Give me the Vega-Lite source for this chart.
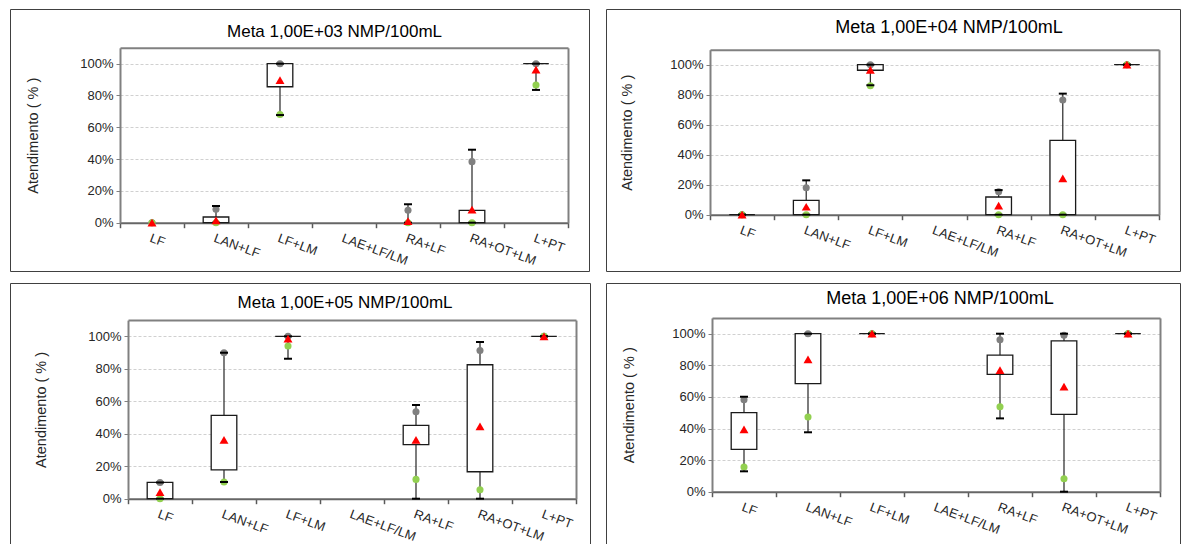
{
  "$schema": "https://vega.github.io/schema/vega-lite/v6.json",
  "background": "white",
  "padding": {"left": 5, "top": 8, "right": 0, "bottom": 0},
  "config": {
    "font": "Liberation Sans",
    "view": {"stroke": "#404040", "strokeWidth": 1},
    "axis": {
      "labelFont": "Liberation Sans",
      "labelFontSize": 13,
      "labelColor": "#262626",
      "titleFont": "Liberation Sans",
      "titleFontSize": 14.5,
      "titleFontWeight": "normal",
      "titleColor": "#262626"
    },
    "title": {"font": "Liberation Sans", "fontSize": 17, "fontWeight": "normal", "color": "#000000", "anchor": "middle", "frame": "group", "baseline": "middle"}
  },
  "datasets": {
    "caixas": [
      {"meta": "1,00E+03", "grupo": "LF", "minimo": null, "q1": null, "q3": null, "maximo": null, "p10": 0, "p90": 0, "media": 0},
      {"meta": "1,00E+03", "grupo": "LAN+LF", "minimo": 0, "q1": 0, "q3": 0.036, "maximo": 0.105, "p10": 0, "p90": 0.084, "media": 0.015},
      {"meta": "1,00E+03", "grupo": "LF+LM", "minimo": 0.677, "q1": 0.855, "q3": 1, "maximo": 1, "p10": 0.68, "p90": 1, "media": 0.896},
      {"meta": "1,00E+03", "grupo": "RA+LF", "minimo": 0, "q1": null, "q3": null, "maximo": 0.116, "p10": 0, "p90": 0.078, "media": 0.01},
      {"meta": "1,00E+03", "grupo": "RA+OT+LM", "minimo": 0, "q1": 0, "q3": 0.078, "maximo": 0.459, "p10": 0, "p90": 0.384, "media": 0.082},
      {"meta": "1,00E+03", "grupo": "L+PT", "minimo": 0.835, "q1": 1, "q3": 1, "maximo": 1, "p10": 0.866, "p90": 1, "media": 0.962},

      {"meta": "1,00E+04", "grupo": "LF", "minimo": 0, "q1": 0, "q3": 0, "maximo": 0, "p10": 0, "p90": 0, "media": 0},
      {"meta": "1,00E+04", "grupo": "LAN+LF", "minimo": 0, "q1": 0, "q3": 0.096, "maximo": 0.229, "p10": 0, "p90": 0.18, "media": 0.053},
      {"meta": "1,00E+04", "grupo": "LF+LM", "minimo": 0.863, "q1": 0.963, "q3": 1, "maximo": 1, "p10": 0.86, "p90": 1, "media": 0.965},
      {"meta": "1,00E+04", "grupo": "RA+LF", "minimo": 0, "q1": 0, "q3": 0.118, "maximo": 0.164, "p10": 0, "p90": 0.153, "media": 0.06},
      {"meta": "1,00E+04", "grupo": "RA+OT+LM", "minimo": 0, "q1": 0, "q3": 0.496, "maximo": 0.807, "p10": 0, "p90": 0.765, "media": 0.242},
      {"meta": "1,00E+04", "grupo": "L+PT", "minimo": 1, "q1": 1, "q3": 1, "maximo": 1, "p10": 1, "p90": 1, "media": 1},

      {"meta": "1,00E+05", "grupo": "LF", "minimo": 0, "q1": 0, "q3": 0.1, "maximo": 0.1, "p10": 0, "p90": 0.1, "media": 0.041},
      {"meta": "1,00E+05", "grupo": "LAN+LF", "minimo": 0.103, "q1": 0.177, "q3": 0.513, "maximo": 0.899, "p10": 0.103, "p90": 0.899, "media": 0.363},
      {"meta": "1,00E+05", "grupo": "LF+LM", "minimo": 0.862, "q1": 1, "q3": 1, "maximo": 1, "p10": 0.94, "p90": 1, "media": 0.986},
      {"meta": "1,00E+05", "grupo": "RA+LF", "minimo": 0, "q1": 0.333, "q3": 0.452, "maximo": 0.577, "p10": 0.119, "p90": 0.536, "media": 0.363},
      {"meta": "1,00E+05", "grupo": "RA+OT+LM", "minimo": 0, "q1": 0.166, "q3": 0.825, "maximo": 0.965, "p10": 0.055, "p90": 0.912, "media": 0.446},
      {"meta": "1,00E+05", "grupo": "L+PT", "minimo": 1, "q1": 1, "q3": 1, "maximo": 1, "p10": 1, "p90": 1, "media": 1},

      {"meta": "1,00E+06", "grupo": "LF", "minimo": 0.129, "q1": 0.268, "q3": 0.5, "maximo": 0.601, "p10": 0.156, "p90": 0.582, "media": 0.395},
      {"meta": "1,00E+06", "grupo": "LAN+LF", "minimo": 0.376, "q1": 0.684, "q3": 1, "maximo": 1, "p10": 0.473, "p90": 1, "media": 0.838},
      {"meta": "1,00E+06", "grupo": "LF+LM", "minimo": 1, "q1": 1, "q3": 1, "maximo": 1, "p10": 1, "p90": 1, "media": 1},
      {"meta": "1,00E+06", "grupo": "RA+LF", "minimo": 0.464, "q1": 0.743, "q3": 0.865, "maximo": 1, "p10": 0.538, "p90": 0.962, "media": 0.77},
      {"meta": "1,00E+06", "grupo": "RA+OT+LM", "minimo": 0, "q1": 0.489, "q3": 0.954, "maximo": 1, "p10": 0.082, "p90": 0.99, "media": 0.665},
      {"meta": "1,00E+06", "grupo": "L+PT", "minimo": 1, "q1": 1, "q3": 1, "maximo": 1, "p10": 1, "p90": 1, "media": 1}
    ]
  },
  "columns": 2,
  "spacing": {"row": 12, "column": 16},
  "bounds": "flush",
  "concat": [
    {
      "width": 579, "height": 262,
      "title": {"text": "Meta 1,00E+03 NMP/100mL", "offset": -32, "dx": 35},
      "data": {"name": "caixas"},
      "transform": [{"filter": "datum.meta === '1,00E+03'"}],
      "resolve": {"axis": {"x": "independent", "y": "independent"}},
      "layer": [
        {
          "mark": {"type": "rule", "color": "#262626", "strokeWidth": 1.2, "invalid": "filter"},
          "encoding": {
            "x": {"field": "grupo", "type": "nominal",
              "scale": {"domain": ["LF", "LAN+LF", "LF+LM", "LAE+LF/LM", "RA+LF", "RA+OT+LM", "L+PT"], "range": [110, 558], "paddingInner": 0, "paddingOuter": 0},
              "axis": {"orient": "bottom", "offset": -48.3, "title": null, "tickBand": "extent", "tickSize": 5, "tickColor": "#595959", "tickWidth": 1.5, "domainColor": "#666666", "domainWidth": 2, "labelAngle": 20, "labelAlign": "left", "labelBaseline": "top", "labelPadding": 4, "labelOverlap": false, "grid": false}},
            "y": {"field": "minimo", "type": "quantitative",
              "scale": {"domain": [0, 1.1], "range": [213.7, 38.8], "nice": false, "zero": false},
              "axis": {"orient": "left", "offset": -110, "values": [0, 0.2, 0.4, 0.6, 0.8, 1], "format": ".0%", "title": "Atendimento ( % )", "titlePadding": 39, "tickSize": 4, "tickColor": "#808080", "domainColor": "#808080", "domainWidth": 2, "labelPadding": 3, "grid": true, "gridColor": "#d0d0d0", "gridDash": [3, 2]}},
            "y2": {"field": "maximo"}
          }
        },
        {
          "mark": {"type": "bar", "fill": "white", "stroke": "#1a1a1a", "strokeWidth": 1.3, "width": {"band": 0.4}, "invalid": "filter"},
          "encoding": {
            "x": {"field": "grupo", "type": "nominal", "axis": null},
            "y": {"field": "q1", "type": "quantitative", "axis": null},
            "y2": {"field": "q3"}
          }
        },
        {
          "mark": {"type": "point", "filled": true, "color": "#808080", "size": 50, "opacity": 1, "invalid": "filter"},
          "encoding": {"x": {"field": "grupo", "type": "nominal", "axis": null}, "y": {"field": "p90", "type": "quantitative", "axis": null}}
        },
        {
          "mark": {"type": "point", "filled": true, "color": "#92d050", "size": 50, "opacity": 1, "invalid": "filter"},
          "encoding": {"x": {"field": "grupo", "type": "nominal", "axis": null}, "y": {"field": "p10", "type": "quantitative", "axis": null}}
        },
        {
          "mark": {"type": "tick", "color": "#000000", "size": 8, "thickness": 2, "opacity": 1, "invalid": "filter"},
          "encoding": {"x": {"field": "grupo", "type": "nominal", "axis": null}, "y": {"field": "minimo", "type": "quantitative", "axis": null}}
        },
        {
          "mark": {"type": "tick", "color": "#000000", "size": 8, "thickness": 2, "opacity": 1, "invalid": "filter"},
          "encoding": {"x": {"field": "grupo", "type": "nominal", "axis": null}, "y": {"field": "maximo", "type": "quantitative", "axis": null}}
        },
        {
          "mark": {"type": "point", "shape": "triangle-up", "filled": true, "color": "#ff0000", "size": 80, "opacity": 1, "invalid": "filter"},
          "encoding": {
            "x": {"field": "grupo", "type": "nominal", "axis": {"orient": "top", "offset": -38.8, "title": null, "labels": false, "ticks": false, "grid": false, "domainColor": "#808080", "domainWidth": 2}},
            "y": {"field": "media", "type": "quantitative", "axis": {"orient": "right", "offset": -21, "title": null, "labels": false, "ticks": false, "grid": false, "domainColor": "#808080", "domainWidth": 2}}
          }
        }
      ]
    },
    {
      "width": 574, "height": 262,
      "title": {"text": "Meta 1,00E+04 NMP/100mL", "offset": -28, "dx": 56, "fontSize": 18},
      "data": {"name": "caixas"},
      "transform": [{"filter": "datum.meta === '1,00E+04'"}],
      "resolve": {"axis": {"x": "independent", "y": "independent"}},
      "layer": [
        {
          "mark": {"type": "rule", "color": "#262626", "strokeWidth": 1.2, "invalid": "filter"},
          "encoding": {
            "x": {"field": "grupo", "type": "nominal",
              "scale": {"domain": ["LF", "LAN+LF", "LF+LM", "LAE+LF/LM", "RA+LF", "RA+OT+LM", "L+PT"], "range": [104, 553], "paddingInner": 0, "paddingOuter": 0},
              "axis": {"orient": "bottom", "offset": -56.3, "title": null, "tickBand": "extent", "tickSize": 5, "tickColor": "#595959", "tickWidth": 1.5, "domainColor": "#666666", "domainWidth": 2, "labelAngle": 20, "labelAlign": "left", "labelBaseline": "top", "labelPadding": 4, "labelOverlap": false, "grid": false}},
            "y": {"field": "minimo", "type": "quantitative",
              "scale": {"domain": [0, 1.1], "range": [205.7, 40.7], "nice": false, "zero": false},
              "axis": {"orient": "left", "offset": -104, "values": [0, 0.2, 0.4, 0.6, 0.8, 1], "format": ".0%", "title": "Atendimento ( % )", "titlePadding": 35, "tickSize": 4, "tickColor": "#808080", "domainColor": "#808080", "domainWidth": 2, "labelPadding": 3, "grid": true, "gridColor": "#d0d0d0", "gridDash": [3, 2]}},
            "y2": {"field": "maximo"}
          }
        },
        {
          "mark": {"type": "bar", "fill": "white", "stroke": "#1a1a1a", "strokeWidth": 1.3, "width": {"band": 0.4}, "invalid": "filter"},
          "encoding": {
            "x": {"field": "grupo", "type": "nominal", "axis": null},
            "y": {"field": "q1", "type": "quantitative", "axis": null},
            "y2": {"field": "q3"}
          }
        },
        {
          "mark": {"type": "point", "filled": true, "color": "#808080", "size": 50, "opacity": 1, "invalid": "filter"},
          "encoding": {"x": {"field": "grupo", "type": "nominal", "axis": null}, "y": {"field": "p90", "type": "quantitative", "axis": null}}
        },
        {
          "mark": {"type": "point", "filled": true, "color": "#92d050", "size": 50, "opacity": 1, "invalid": "filter"},
          "encoding": {"x": {"field": "grupo", "type": "nominal", "axis": null}, "y": {"field": "p10", "type": "quantitative", "axis": null}}
        },
        {
          "mark": {"type": "tick", "color": "#000000", "size": 8, "thickness": 2, "opacity": 1, "invalid": "filter"},
          "encoding": {"x": {"field": "grupo", "type": "nominal", "axis": null}, "y": {"field": "minimo", "type": "quantitative", "axis": null}}
        },
        {
          "mark": {"type": "tick", "color": "#000000", "size": 8, "thickness": 2, "opacity": 1, "invalid": "filter"},
          "encoding": {"x": {"field": "grupo", "type": "nominal", "axis": null}, "y": {"field": "maximo", "type": "quantitative", "axis": null}}
        },
        {
          "mark": {"type": "point", "shape": "triangle-up", "filled": true, "color": "#ff0000", "size": 80, "opacity": 1, "invalid": "filter"},
          "encoding": {
            "x": {"field": "grupo", "type": "nominal", "axis": {"orient": "top", "offset": -40.7, "title": null, "labels": false, "ticks": false, "grid": false, "domainColor": "#808080", "domainWidth": 2}},
            "y": {"field": "media", "type": "quantitative", "axis": {"orient": "right", "offset": -21, "title": null, "labels": false, "ticks": false, "grid": false, "domainColor": "#808080", "domainWidth": 2}}
          }
        }
      ]
    },
    {
      "width": 580, "height": 262,
      "title": {"text": "Meta 1,00E+05 NMP/100mL", "offset": -29, "dx": 45},
      "data": {"name": "caixas"},
      "transform": [{"filter": "datum.meta === '1,00E+05'"}],
      "resolve": {"axis": {"x": "independent", "y": "independent"}},
      "layer": [
        {
          "mark": {"type": "rule", "color": "#262626", "strokeWidth": 1.2, "invalid": "filter"},
          "encoding": {
            "x": {"field": "grupo", "type": "nominal",
              "scale": {"domain": ["LF", "LAN+LF", "LF+LM", "LAE+LF/LM", "RA+LF", "RA+OT+LM", "L+PT"], "range": [118, 566], "paddingInner": 0, "paddingOuter": 0},
              "axis": {"orient": "bottom", "offset": -46.3, "title": null, "tickBand": "extent", "tickSize": 5, "tickColor": "#595959", "tickWidth": 1.5, "domainColor": "#666666", "domainWidth": 2, "labelAngle": 20, "labelAlign": "left", "labelBaseline": "top", "labelPadding": 4, "labelOverlap": false, "grid": false}},
            "y": {"field": "minimo", "type": "quantitative",
              "scale": {"domain": [0, 1.1], "range": [215.7, 37.1], "nice": false, "zero": false},
              "axis": {"orient": "left", "offset": -118, "values": [0, 0.2, 0.4, 0.6, 0.8, 1], "format": ".0%", "title": "Atendimento ( % )", "titlePadding": 39, "tickSize": 4, "tickColor": "#808080", "domainColor": "#808080", "domainWidth": 2, "labelPadding": 3, "grid": true, "gridColor": "#d0d0d0", "gridDash": [3, 2]}},
            "y2": {"field": "maximo"}
          }
        },
        {
          "mark": {"type": "bar", "fill": "white", "stroke": "#1a1a1a", "strokeWidth": 1.3, "width": {"band": 0.4}, "invalid": "filter"},
          "encoding": {
            "x": {"field": "grupo", "type": "nominal", "axis": null},
            "y": {"field": "q1", "type": "quantitative", "axis": null},
            "y2": {"field": "q3"}
          }
        },
        {
          "mark": {"type": "point", "filled": true, "color": "#808080", "size": 50, "opacity": 1, "invalid": "filter"},
          "encoding": {"x": {"field": "grupo", "type": "nominal", "axis": null}, "y": {"field": "p90", "type": "quantitative", "axis": null}}
        },
        {
          "mark": {"type": "point", "filled": true, "color": "#92d050", "size": 50, "opacity": 1, "invalid": "filter"},
          "encoding": {"x": {"field": "grupo", "type": "nominal", "axis": null}, "y": {"field": "p10", "type": "quantitative", "axis": null}}
        },
        {
          "mark": {"type": "tick", "color": "#000000", "size": 8, "thickness": 2, "opacity": 1, "invalid": "filter"},
          "encoding": {"x": {"field": "grupo", "type": "nominal", "axis": null}, "y": {"field": "minimo", "type": "quantitative", "axis": null}}
        },
        {
          "mark": {"type": "tick", "color": "#000000", "size": 8, "thickness": 2, "opacity": 1, "invalid": "filter"},
          "encoding": {"x": {"field": "grupo", "type": "nominal", "axis": null}, "y": {"field": "maximo", "type": "quantitative", "axis": null}}
        },
        {
          "mark": {"type": "point", "shape": "triangle-up", "filled": true, "color": "#ff0000", "size": 80, "opacity": 1, "invalid": "filter"},
          "encoding": {
            "x": {"field": "grupo", "type": "nominal", "axis": {"orient": "top", "offset": -37.1, "title": null, "labels": false, "ticks": false, "grid": false, "domainColor": "#808080", "domainWidth": 2}},
            "y": {"field": "media", "type": "quantitative", "axis": {"orient": "right", "offset": -14, "title": null, "labels": false, "ticks": false, "grid": false, "domainColor": "#808080", "domainWidth": 2}}
          }
        }
      ]
    },
    {
      "width": 574, "height": 262,
      "title": {"text": "Meta 1,00E+06 NMP/100mL", "offset": -25, "dx": 47, "fontSize": 18},
      "data": {"name": "caixas"},
      "transform": [{"filter": "datum.meta === '1,00E+06'"}],
      "resolve": {"axis": {"x": "independent", "y": "independent"}},
      "layer": [
        {
          "mark": {"type": "rule", "color": "#262626", "strokeWidth": 1.2, "invalid": "filter"},
          "encoding": {
            "x": {"field": "grupo", "type": "nominal",
              "scale": {"domain": ["LF", "LAN+LF", "LF+LM", "LAE+LF/LM", "RA+LF", "RA+OT+LM", "L+PT"], "range": [106, 554], "paddingInner": 0, "paddingOuter": 0},
              "axis": {"orient": "bottom", "offset": -53.3, "title": null, "tickBand": "extent", "tickSize": 5, "tickColor": "#595959", "tickWidth": 1.5, "domainColor": "#666666", "domainWidth": 2, "labelAngle": 20, "labelAlign": "left", "labelBaseline": "top", "labelPadding": 4, "labelOverlap": false, "grid": false}},
            "y": {"field": "minimo", "type": "quantitative",
              "scale": {"domain": [0, 1.1], "range": [208.7, 34.9], "nice": false, "zero": false},
              "axis": {"orient": "left", "offset": -106, "values": [0, 0.2, 0.4, 0.6, 0.8, 1], "format": ".0%", "title": "Atendimento ( % )", "titlePadding": 35, "tickSize": 4, "tickColor": "#808080", "domainColor": "#808080", "domainWidth": 2, "labelPadding": 3, "grid": true, "gridColor": "#d0d0d0", "gridDash": [3, 2]}},
            "y2": {"field": "maximo"}
          }
        },
        {
          "mark": {"type": "bar", "fill": "white", "stroke": "#1a1a1a", "strokeWidth": 1.3, "width": {"band": 0.4}, "invalid": "filter"},
          "encoding": {
            "x": {"field": "grupo", "type": "nominal", "axis": null},
            "y": {"field": "q1", "type": "quantitative", "axis": null},
            "y2": {"field": "q3"}
          }
        },
        {
          "mark": {"type": "point", "filled": true, "color": "#808080", "size": 50, "opacity": 1, "invalid": "filter"},
          "encoding": {"x": {"field": "grupo", "type": "nominal", "axis": null}, "y": {"field": "p90", "type": "quantitative", "axis": null}}
        },
        {
          "mark": {"type": "point", "filled": true, "color": "#92d050", "size": 50, "opacity": 1, "invalid": "filter"},
          "encoding": {"x": {"field": "grupo", "type": "nominal", "axis": null}, "y": {"field": "p10", "type": "quantitative", "axis": null}}
        },
        {
          "mark": {"type": "tick", "color": "#000000", "size": 8, "thickness": 2, "opacity": 1, "invalid": "filter"},
          "encoding": {"x": {"field": "grupo", "type": "nominal", "axis": null}, "y": {"field": "minimo", "type": "quantitative", "axis": null}}
        },
        {
          "mark": {"type": "tick", "color": "#000000", "size": 8, "thickness": 2, "opacity": 1, "invalid": "filter"},
          "encoding": {"x": {"field": "grupo", "type": "nominal", "axis": null}, "y": {"field": "maximo", "type": "quantitative", "axis": null}}
        },
        {
          "mark": {"type": "point", "shape": "triangle-up", "filled": true, "color": "#ff0000", "size": 80, "opacity": 1, "invalid": "filter"},
          "encoding": {
            "x": {"field": "grupo", "type": "nominal", "axis": {"orient": "top", "offset": -34.9, "title": null, "labels": false, "ticks": false, "grid": false, "domainColor": "#808080", "domainWidth": 2}},
            "y": {"field": "media", "type": "quantitative", "axis": {"orient": "right", "offset": -20, "title": null, "labels": false, "ticks": false, "grid": false, "domainColor": "#808080", "domainWidth": 2}}
          }
        }
      ]
    }
  ]
}
